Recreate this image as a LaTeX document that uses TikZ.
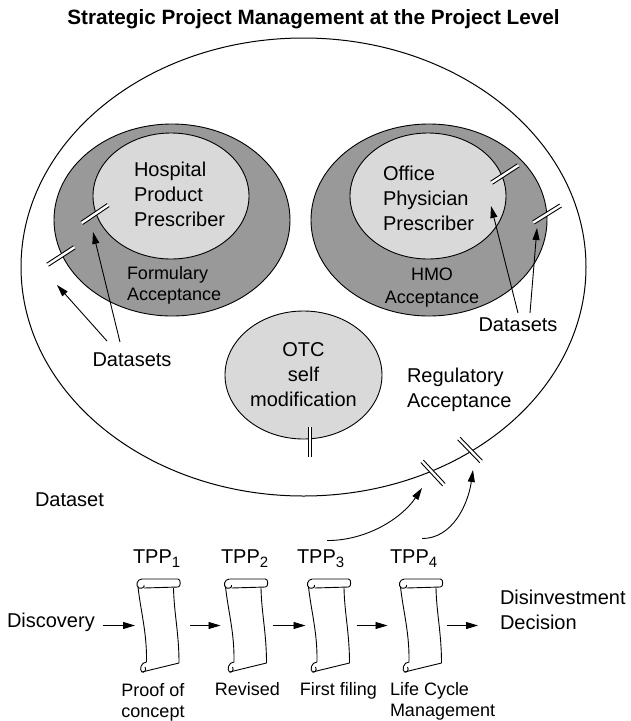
\documentclass[tikz,border=0pt]{standalone}
\usepackage{fontspec}
\setmainfont{Liberation Sans}
\usetikzlibrary{arrows.meta,shapes.geometric}
\definecolor{ringfill}{gray}{0.6}
\definecolor{corefill}{gray}{0.85}
\newcommand\tppsub[1]{TPP\raisebox{-4pt}{\fontsize{15}{15}\selectfont #1}}
\tikzset{
  every node/.style={inner sep=0pt, outer sep=0pt},
  big/.style={font=\fontsize{20}{25}\selectfont},
  mid/.style={font=\fontsize{18}{21}\selectfont},
  ring/.style={ellipse, draw, line width=0.9pt, fill=ringfill,
    minimum width=236pt, minimum height=192pt},
  core/.style={ellipse, draw, line width=0.9pt, fill=corefill,
    minimum width=156pt, minimum height=126pt},
  arr/.style={line width=0.9pt, -{Triangle[length=12pt,width=7pt]}},
  scrollbox/.style={minimum width=47pt, minimum height=95pt},
  % break mark: two short parallel strokes across a boundary
  brk/.pic={
    \fill[white] (-16,-1.8) rectangle (16,1.8);
    \draw[line width=0.9pt] (-16,-1.8) -- (16,-1.8) (-16,1.8) -- (16,1.8);
  },
  % rolled document, drawn from its top-left corner
  scrollpic/.pic={
    \begin{scope}[line width=0.9pt, line join=round]
      \draw (7,1) -- (43,1) .. controls (46,1) and (46,9) .. (43,9) -- (9,10);
      \draw (7,1) .. controls (2,1) and (0,8) .. (4,10) .. controls (7,11) and (10,9) .. (9,7);
      \draw (3,9) .. controls (6,35) and (12,55) .. (11.5,84);
      \draw (11.5,84) .. controls (6,84) and (4,92) .. (7,94) .. controls (9,95) and (12,92) .. (10,89);
      \draw (7,94) -- (44,85);
      \draw (38.5,10) .. controls (39,35) and (44,55) .. (44,85);
    \end{scope}
  },
}
\begin{document}
\begin{tikzpicture}[x=1pt, y=-1pt]
\fill[white] (0,0) rectangle (631,721);
\useasboundingbox (0,0) rectangle (631,721);

% title
\node[font=\bfseries\fontsize{20.7}{24}\selectfont, anchor=base] (title) at (313.5,24)
  {Strategic Project Management at the Project Level};

% regulatory acceptance region
\node[ellipse, draw, line width=1pt, minimum width=565pt, minimum height=458pt] (outer) at (303.5,267) {};

% formulary side
\node[ring] (formring) at (172,220) {};
\node[core] (hosp) at (171,196) {};
% HMO side
\node[ring] (hmoring) at (429,220) {};
\node[core] (office) at (428,196) {};
% OTC
\node[core, minimum width=157pt, minimum height=128pt] (otc) at (303.5,375) {};

% labels inside the regions
\node[big, anchor=north west, align=left] (hosptxt) at (134,162) {Hospital\\Product\\Prescriber};
\node[big, anchor=north west, align=left] (officetxt) at (383,166) {Office\\Physician\\Prescriber};
\node[mid, anchor=north west, align=left] (formtxt) at (127,266) {Formulary\\Acceptance};
\node[mid, anchor=north, align=center, font=\fontsize{18}{23}\selectfont] (hmotxt) at (432,268) {HMO\\Acceptance};
\node[big, anchor=north, align=center] (otctxt) at (303.5,343) {OTC\\self\\modification};
\node[big, anchor=north west, align=left] (regtxt) at (407,368) {Regulatory\\Acceptance};

% break marks
\coordinate (m1) at (61,256);
\coordinate (m2) at (95,214);
\coordinate (m3) at (505,174);
\coordinate (m4) at (547,214);
\coordinate (m5) at (310,442);
\coordinate (m6) at (433,473);
\coordinate (m7) at (470,450);
\pic[rotate=33] at (m1) {brk};
\pic[rotate=34] at (m2) {brk};
\pic[rotate=33] at (m3) {brk};
\pic[rotate=32] at (m4) {brk};
\pic[rotate=90, scale=0.94] at (m5) {brk};
\pic[rotate=-47] at (m6) {brk};
\pic[rotate=-46] at (m7) {brk};

% dataset pointers
\node[big, anchor=north] (dsleft) at (132,353) {Datasets};
\node[big, anchor=north] (dsright) at (518,318) {Datasets};
\coordinate (t1) at (57,285);
\coordinate (t2) at (93,232);
\coordinate (t3) at (491,206);
\coordinate (t4) at (537,228);
\draw[arr] ([shift={(-25,-12)}]dsleft.north) -- (t1);
\draw[arr] ([shift={(-12,-11)}]dsleft.north) -- (t2);
\draw[arr] ([shift={(0,-5)}]dsright.north) -- (t3);
\draw[arr] ([shift={(12,-5)}]dsright.north) -- (t4);

\node[big, anchor=north west] (dataset) at (35,493) {Dataset};

% target product profiles
\node[big, anchor=base west] (tpp1) at (133,563) {\tppsub{1}};
\node[big, anchor=base west] (tpp2) at (221,563) {\tppsub{2}};
\node[big, anchor=base west] (tpp3) at (297,563) {\tppsub{3}};
\node[big, anchor=base west] (tpp4) at (390,563) {\tppsub{4}};

\node[scrollbox] (s1) at (158.5,625.5) {};
\node[scrollbox] (s2) at (246,625.5) {};
\node[scrollbox] (s3) at (329,625.5) {};
\node[scrollbox] (s4) at (421,625.5) {};
\pic at (s1.north west) {scrollpic};
\pic at (s2.north west) {scrollpic};
\pic at (s3.north west) {scrollpic};
\pic at (s4.north west) {scrollpic};

\node[big, anchor=base west] (disc) at (7,627.5) {Discovery};
\node[big, anchor=north west, align=left] (disinv) at (500,590) {Disinvestment\\Decision};

\draw[arr, shorten <=8pt] (disc.east |- s1.west) -- (s1.west);
\draw[arr, shorten <=8pt, shorten >=2pt] (s1.east) -- (s2.west);
\draw[arr, shorten <=3pt] (s2.east) -- (s3.west);
\draw[arr, shorten <=4pt, shorten >=10pt] (s3.east) -- (s4.west);
\draw[arr, shorten <=2pt, shorten >=22pt] (s4.east) -- (s4.east -| disinv.west);

\node[mid, anchor=north, align=center] (lab1) at (153,683) {Proof of\\concept};
\node[mid, anchor=north] (lab2) at (247.5,682) {Revised};
\node[mid, anchor=north] (lab3) at (338.5,682) {First filing};
\node[mid, anchor=north west, align=left] (lab4) at (390,682) {Life Cycle\\Management};

% datasets passed on to regulatory acceptance
\coordinate (t5) at (422,488);
\coordinate (t6) at (473,470);
\draw[arr] ([shift={(6.5,-8.7)}]tpp3.north) .. controls +(40,0) and +(-20,30) .. (t5);
\draw[arr] ([shift={(8.5,-10.7)}]tpp4.north) .. controls +(30,0) and +(-5,35) .. (t6);
\end{tikzpicture}
\end{document}
